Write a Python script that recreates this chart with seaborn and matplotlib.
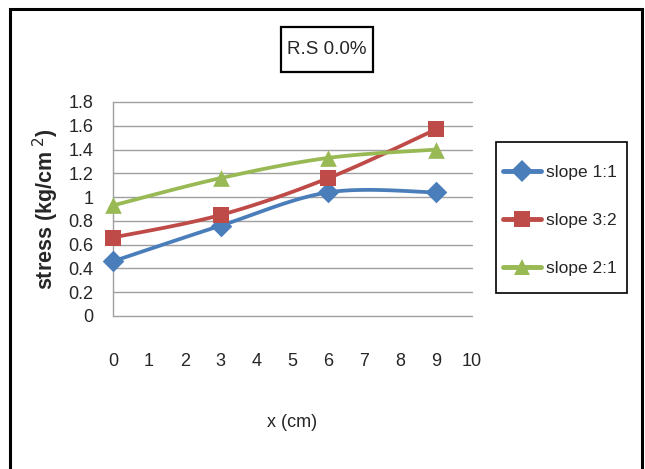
import numpy as np
import pandas as pd
import matplotlib
matplotlib.use("Agg")
import matplotlib.pyplot as plt
from matplotlib.lines import Line2D
from matplotlib.patches import Rectangle
import seaborn as sns

sns.set_theme(style="white")
plt.rcParams["font.family"] = ["Liberation Sans", "DejaVu Sans"]

# measurement positions along the slope and stress readings
x_cm = [0, 3, 6, 9]
slope_1_1 = [0.46, 0.76, 1.04, 1.04]
slope_3_2 = [0.66, 0.85, 1.16, 1.57]
slope_2_1 = [0.93, 1.16, 1.33, 1.40]

series_names = ["slope 1:1", "slope 3:2", "slope 2:1"]
series_vals = [slope_1_1, slope_3_2, slope_2_1]
colors = ["#4A7EBB", "#BE4B48", "#98B954"]
markers = ["D", "s", "^"]
marker_sizes = [11, 11, 12]

x_ticks = list(range(0, 11))
y_ticks = [0, 0.2, 0.4, 0.6, 0.8, 1.0, 1.2, 1.4, 1.6, 1.8]
y_tick_labels = ["0", "0.2", "0.4", "0.6", "0.8", "1", "1.2", "1.4", "1.6", "1.8"]


def smooth_curve(xs, ys, n=40):
    """Bezier smoothing through the points (Catmull-Rom style control points)."""
    pts = np.column_stack([xs, ys]).astype(float)
    ext = np.vstack([pts[0], pts, pts[-1]])
    out = []
    t = np.linspace(0, 1, n)[:, None]
    for i in range(len(pts) - 1):
        p0, p1, p2, p3 = ext[i], ext[i + 1], ext[i + 2], ext[i + 3]
        c1 = p1 + (p2 - p0) / 6.0
        c2 = p2 - (p3 - p1) / 6.0
        seg = ((1 - t) ** 3) * p1 + 3 * ((1 - t) ** 2) * t * c1 + 3 * (1 - t) * t ** 2 * c2 + t ** 3 * p2
        out.append(seg if i == 0 else seg[1:])
    arr = np.vstack(out)
    return arr[:, 0], arr[:, 1]


W, H = 645, 469
fig = plt.figure(figsize=(W / 100, H / 100), dpi=100)
fig.patch.set_facecolor("white")

ax = fig.add_axes([113 / W, 1 - 316 / H, (472 - 113) / W, (316 - 102) / H])

for name, vals, c, m, ms in zip(series_names, series_vals, colors, markers, marker_sizes):
    sx, sy = smooth_curve(x_cm, vals)
    curve = pd.DataFrame({"x": sx, "y": sy})
    sns.lineplot(data=curve, x="x", y="y", ax=ax, color=c, linewidth=2.7,
                 sort=False, estimator=None, zorder=3)
    pts = pd.DataFrame({"x": x_cm, "y": vals})
    sns.scatterplot(data=pts, x="x", y="y", ax=ax, color=c, marker=m,
                    s=ms ** 2, edgecolor=c, linewidth=0, zorder=4, clip_on=False)

ax.set_xlim(0, 10)
ax.set_ylim(0, 1.8)
ax.set_xticks(x_ticks)
ax.set_xticklabels([str(v) for v in x_ticks], fontsize=13)
ax.set_yticks(y_ticks)
ax.set_yticklabels(y_tick_labels, fontsize=13)
ax.tick_params(axis="x", pad=27, length=0)
ax.tick_params(axis="y", pad=14, length=0)
ax.yaxis.grid(True, color="#A0A0A0", linewidth=1)
for gl in ax.get_ygridlines():
    gl.set_clip_on(False)
ax.xaxis.grid(False)
for side in ["top", "right", "bottom"]:
    ax.spines[side].set_visible(False)
ax.spines["left"].set_color("#A0A0A0")
ax.spines["left"].set_linewidth(1)
ax.set_facecolor("white")

ax.set_xlabel("x (cm)", fontsize=13)
ax.xaxis.set_label_coords(0.5, -(422 - 316) / (316 - 102), transform=ax.transAxes)
ax.xaxis.label.set_va("center")
ax.set_ylabel("stress (kg/cm$^{\\ 2}$)", fontsize=15.5, fontweight="bold")
ax.yaxis.set_label_coords(-(113 - 46) / (472 - 113), 0.5, transform=ax.transAxes)
ax.yaxis.label.set_va("center")

# chart title in a framed box
fig.text(327 / W, 1 - 50 / H, "R.S 0.0%", ha="center", va="center", fontsize=13.5)
fig.patches.append(Rectangle((281 / W, 1 - 72 / H), (373 - 281) / W, (72 - 27) / H,
                             transform=fig.transFigure, fill=False, edgecolor="black",
                             linewidth=1.6, zorder=10))

# legend
handles = [Line2D([0], [0], color=c, linewidth=3.5, marker=m, markersize=ms, markeredgewidth=0)
           for c, m, ms in zip(colors, markers, marker_sizes)]
leg = fig.legend(handles, series_names, loc="center left",
                 bbox_to_anchor=(503 / W, 1 - 220.5 / H), fontsize=12.5,
                 frameon=False, handlelength=2.2, handletextpad=0.25,
                 labelspacing=1.9, borderpad=0, borderaxespad=0)
fig.patches.append(Rectangle((496 / W, 1 - 293 / H), (627 - 496) / W, (293 - 142) / H,
                             transform=fig.transFigure, fill=False, edgecolor="black",
                             linewidth=1.2, zorder=10))

# outer chart border
fig.patches.append(Rectangle((10 / W, -0.05), (642 - 10) / W, (1 - 9 / H) + 0.05,
                             transform=fig.transFigure, fill=False, edgecolor="black",
                             linewidth=2.2, zorder=10))

fig.savefig("out.png", dpi=100, facecolor="white")
